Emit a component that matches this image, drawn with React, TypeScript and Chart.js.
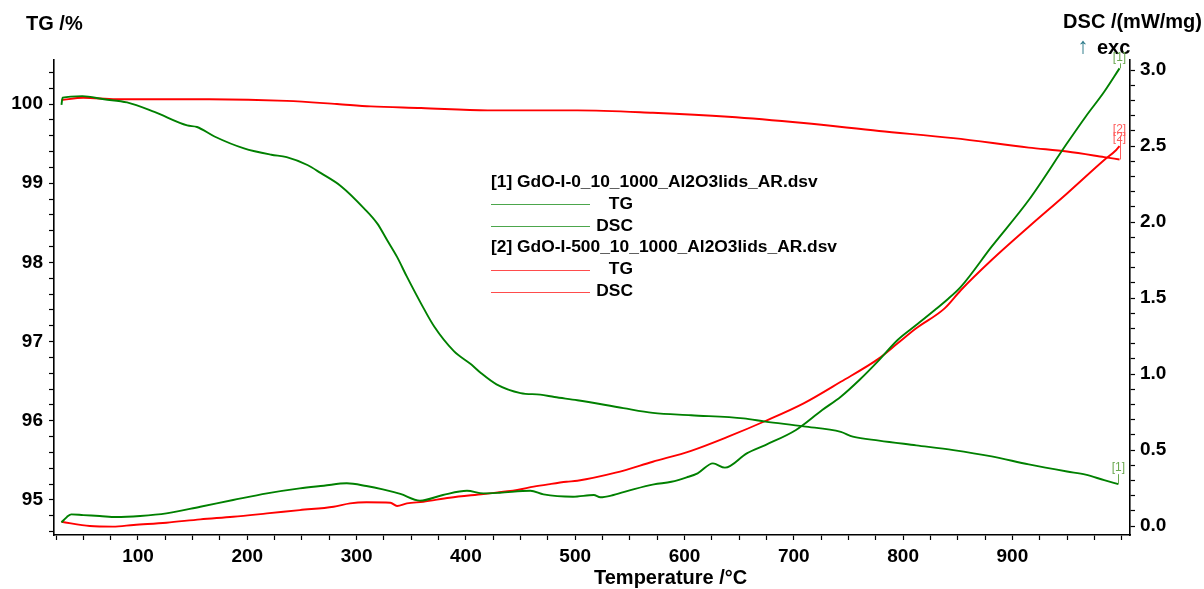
import { useEffect, useRef } from "react";
import { Chart, registerables } from "chart.js";

Chart.register(...registerables);

const FONT = '"Liberation Sans", Arial, Helvetica, sans-serif';
const GREEN = "#008000";
const RED = "#ff0000";
const GREEN_TAG = "#6aa84f";
const RED_TAG = "#ff5c5c";

// [1] GdO-I-0 — TG (%)
const tg1Temp = [30, 31, 49, 69, 90, 115, 145, 154, 170, 197, 222, 236, 255, 267, 286, 307, 319, 328, 337, 346, 359, 371, 389, 405, 414, 428, 450, 468, 481, 502, 544, 571, 606, 654, 674, 709, 743, 754, 778, 812, 846, 881, 915, 950, 967, 984, 997];
const tg1Mass = [99.99, 100.08, 100.1, 100.06, 100.02, 99.9, 99.73, 99.71, 99.59, 99.44, 99.36, 99.33, 99.23, 99.13, 98.96, 98.68, 98.49, 98.28, 98.07, 97.82, 97.48, 97.19, 96.88, 96.71, 96.6, 96.46, 96.35, 96.33, 96.3, 96.26, 96.16, 96.1, 96.07, 96.03, 95.99, 95.93, 95.86, 95.8, 95.75, 95.69, 95.63, 95.55, 95.45, 95.36, 95.32, 95.25, 95.2];

// [1] GdO-I-0 — DSC (mW/mg)
const dsc1Temp = [30, 35, 39, 50, 65, 80, 102, 126, 157, 187, 218, 248, 270, 291, 309, 324, 340, 358, 379, 401, 416, 431, 459, 471, 498, 517, 523, 535, 554, 572, 588, 602, 612, 626, 637, 657, 674, 702, 726, 743, 760, 778, 795, 812, 829, 840, 853, 881, 915, 950, 967, 984, 998];
const dsc1Heat = [0.024, 0.06, 0.077, 0.072, 0.066, 0.059, 0.066, 0.083, 0.127, 0.171, 0.215, 0.248, 0.265, 0.281, 0.263, 0.241, 0.211, 0.167, 0.204, 0.232, 0.215, 0.219, 0.232, 0.208, 0.193, 0.204, 0.189, 0.204, 0.243, 0.274, 0.291, 0.32, 0.347, 0.412, 0.384, 0.478, 0.533, 0.632, 0.763, 0.851, 0.961, 1.092, 1.224, 1.322, 1.421, 1.487, 1.575, 1.838, 2.145, 2.518, 2.693, 2.857, 3.011];

// [2] GdO-I-500 — TG (%)
const tg2Temp = [30, 50, 80, 115, 165, 236, 282, 313, 359, 420, 468, 502, 571, 640, 709, 778, 846, 915, 950, 984, 998];
const tg2Mass = [100.05, 100.08, 100.06, 100.06, 100.06, 100.04, 100.0, 99.97, 99.95, 99.92, 99.92, 99.92, 99.89, 99.84, 99.76, 99.66, 99.57, 99.45, 99.4, 99.33, 99.3];

// [2] GdO-I-500 — DSC (mW/mg)
const dsc2Temp = [30, 56, 77, 96, 126, 157, 187, 218, 248, 279, 294, 309, 331, 337, 346, 361, 385, 416, 447, 462, 477, 492, 502, 537, 571, 606, 640, 674, 709, 743, 778, 795, 812, 838, 853, 881, 915, 950, 984, 995, 998];
const dsc2Heat = [0.028, 0.0, -0.004, 0.007, 0.022, 0.044, 0.061, 0.083, 0.105, 0.127, 0.149, 0.156, 0.153, 0.132, 0.149, 0.16, 0.186, 0.211, 0.237, 0.259, 0.276, 0.291, 0.298, 0.351, 0.423, 0.495, 0.588, 0.691, 0.807, 0.949, 1.103, 1.202, 1.301, 1.432, 1.553, 1.75, 1.969, 2.188, 2.408, 2.474, 2.5];

// Axis tick labels
const tempTickLabels = [100, 200, 300, 400, 500, 600, 700, 800, 900];
const tgTickLabels = [95, 96, 97, 98, 99, 100];
const dscTickLabels = [0.0, 0.5, 1.0, 1.5, 2.0, 2.5, 3.0];

// Minor tick positions (labelled ones included)
const tempMinorTicks: number[] = [];
for (let i = 1; i <= 40; i++) tempMinorTicks.push(i * 25);
const tgMinorTicks: number[] = [];
for (let i = 473; i <= 502; i++) tgMinorTicks.push(i / 5);
const dscMinorTicks: number[] = [];
for (let i = 0; i <= 30; i++) dscMinorTicks.push(i / 10);

const pairs = (xs: number[], ys: number[]) => xs.map((x, i) => ({ x, y: ys[i] }));
const hasLabel = (labels: number[], v: number) => labels.some((l) => Math.abs(l - v) < 1e-9);

const tickFont = { family: FONT, size: 19, weight: "bold" as const };

const annotations = {
  id: "annotations",
  afterDraw(chart: any) {
    const { ctx, scales } = chart;
    const x = scales.x;
    const yTG = scales.yTG;
    const yDSC = scales.yDSC;
    ctx.save();

    // axis titles
    ctx.fillStyle = "#000";
    ctx.font = `bold 20px ${FONT}`;
    ctx.textBaseline = "middle";
    ctx.textAlign = "left";
    ctx.fillText("TG /%", 26, 24);
    ctx.textAlign = "right";
    ctx.fillText("DSC /(mW/mg)", 1202, 22);
    ctx.textAlign = "left";
    ctx.fillText("exc", 1097, 48);
    ctx.fillText("Temperature /°C", 594, 578);
    ctx.fillStyle = "#2f7c8c";
    ctx.font = `22px ${FONT}`;
    ctx.textAlign = "center";
    ctx.fillText("↑", 1083, 47);

    // legend
    const legendX = 491;
    const lineEnd = 590;
    const labelRight = 633;
    const rows: [string, string | null][] = [
      ["[1] GdO-I-0_10_1000_Al2O3lids_AR.dsv", null],
      ["TG", GREEN],
      ["DSC", GREEN],
      ["[2] GdO-I-500_10_1000_Al2O3lids_AR.dsv", null],
      ["TG", RED],
      ["DSC", RED],
    ];
    ctx.font = `bold 17.4px ${FONT}`;
    ctx.fillStyle = "#000";
    rows.forEach(([text, lineColor], i) => {
      const y = 182 + i * 21.9;
      if (lineColor) {
        ctx.strokeStyle = lineColor;
        ctx.lineWidth = 1;
        ctx.globalAlpha = 0.7;
        ctx.beginPath();
        ctx.moveTo(legendX, Math.round(y) + 0.5);
        ctx.lineTo(lineEnd, Math.round(y) + 0.5);
        ctx.stroke();
        ctx.globalAlpha = 1;
        ctx.textAlign = "right";
        ctx.fillText(text, labelRight, y);
      } else {
        ctx.textAlign = "left";
        ctx.fillText(text, legendX, y);
      }
    });

    // curve tags at the end of each trace
    const tag = (px: number, py: number, text: string, color: string, rise: number) => {
      ctx.fillStyle = color;
      ctx.strokeStyle = color;
      ctx.lineWidth = 1;
      ctx.font = `12px ${FONT}`;
      ctx.textAlign = "center";
      ctx.textBaseline = "bottom";
      ctx.fillText(text, px, py - rise);
      ctx.beginPath();
      ctx.moveTo(Math.round(px) + 0.5, py - rise);
      ctx.lineTo(Math.round(px) + 0.5, py);
      ctx.stroke();
    };
    const last = (a: number[]) => a[a.length - 1];
    tag(x.getPixelForValue(last(dsc1Temp)), yDSC.getPixelForValue(last(dsc1Heat)), "[1]", GREEN_TAG, 5);
    tag(x.getPixelForValue(last(tg1Temp)), yTG.getPixelForValue(last(tg1Mass)), "[1]", GREEN_TAG, 10);
    tag(x.getPixelForValue(last(tg2Temp)), yTG.getPixelForValue(last(tg2Mass)), "[2]", RED_TAG, 24);
    tag(x.getPixelForValue(last(dsc2Temp)), yDSC.getPixelForValue(last(dsc2Heat)), "[2]", RED_TAG, 2);

    ctx.restore();
  },
};

export default function App() {
  const canvasRef = useRef<HTMLCanvasElement | null>(null);

  useEffect(() => {
    document.body.style.margin = "0";
    const canvas = canvasRef.current;
    if (!canvas) return;

    const line = (data: { x: number; y: number }[], color: string, axis: string) => ({
      data,
      borderColor: color,
      backgroundColor: color,
      borderWidth: 1.9,
      pointRadius: 0,
      cubicInterpolationMode: "monotone" as const,
      yAxisID: axis,
    });

    const chart = new Chart(canvas, {
      type: "line",
      data: {
        datasets: [
          line(pairs(tg1Temp, tg1Mass), GREEN, "yTG"),
          line(pairs(dsc1Temp, dsc1Heat), GREEN, "yDSC"),
          line(pairs(tg2Temp, tg2Mass), RED, "yTG"),
          line(pairs(dsc2Temp, dsc2Heat), RED, "yDSC"),
        ],
      },
      options: {
        responsive: false,
        animation: false,
        devicePixelRatio: 1,
        layout: { padding: { top: 60, left: 0, right: 0, bottom: 0 } },
        plugins: {
          legend: { display: false },
          tooltip: { enabled: false },
        },
        scales: {
          x: {
            type: "linear",
            min: 23.15,
            max: 1007.6,
            afterFit: (s: any) => {
              s.height = 54;
            },
            afterBuildTicks: (s: any) => {
              s.ticks = tempMinorTicks.map((value) => ({ value }));
            },
            ticks: {
              autoSkip: false,
              maxRotation: 0,
              color: "#000",
              font: tickFont,
              padding: 5,
              callback: (v: any) => (hasLabel(tempTickLabels, Number(v)) ? String(v) : ""),
            },
            grid: { drawOnChartArea: false, drawTicks: true, tickLength: 5, tickColor: "#000", tickWidth: 1.2 },
            border: { display: true, color: "#000", width: 1.6 },
          },
          yTG: {
            type: "linear",
            position: "left",
            min: 94.558,
            max: 100.556,
            afterFit: (s: any) => {
              s.width = 54;
            },
            afterBuildTicks: (s: any) => {
              s.ticks = tgMinorTicks.map((value) => ({ value }));
            },
            ticks: {
              autoSkip: false,
              color: "#000",
              font: tickFont,
              padding: 6,
              callback: (v: any) => (hasLabel(tgTickLabels, Number(v)) ? String(Math.round(Number(v))) : ""),
            },
            grid: { drawOnChartArea: false, drawTicks: true, tickLength: 5, tickColor: "#000", tickWidth: 1.2 },
            border: { display: true, color: "#000", width: 1.6 },
          },
          yDSC: {
            type: "linear",
            position: "right",
            min: -0.059,
            max: 3.066,
            afterFit: (s: any) => {
              s.width = 74;
            },
            afterBuildTicks: (s: any) => {
              s.ticks = dscMinorTicks.map((value) => ({ value }));
            },
            ticks: {
              autoSkip: false,
              color: "#000",
              font: tickFont,
              padding: 5,
              callback: (v: any) => (hasLabel(dscTickLabels, Number(v)) ? Number(v).toFixed(1) : ""),
            },
            grid: { drawOnChartArea: false, drawTicks: true, tickLength: 5, tickColor: "#000", tickWidth: 1.2 },
            border: { display: true, color: "#000", width: 1.6 },
          },
        },
      },
      plugins: [annotations],
    });

    return () => chart.destroy();
  }, []);

  return (
    <div style={{ width: 1204, height: 589, background: "#fff" }}>
      <canvas ref={canvasRef} width={1204} height={589} style={{ display: "block" }} />
    </div>
  );
}
